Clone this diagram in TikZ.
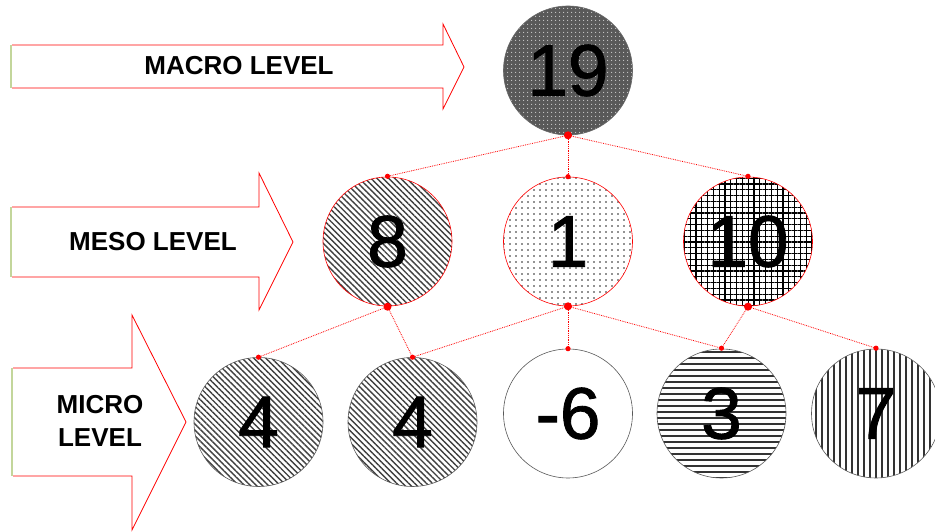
\documentclass[tikz,border=0pt]{standalone}
\usepackage{fontspec}
\setmainfont{Liberation Sans}
\newfontfamily\numfont[FakeBold=1.2]{Liberation Sans}
\usetikzlibrary{patterns.meta}
\definecolor{arrowred}{HTML}{FF0000}
\definecolor{edgegreen}{HTML}{C3D69B}

\tikzset{
  levelnode/.style={circle, minimum size=129pt, inner sep=0pt,
    font=\numfont\fontsize{73}{73}\selectfont},
  micronode/.style={levelnode, draw=black!65, line width=0.6pt},
  mesonode/.style={levelnode, draw=arrowred, line width=0.6pt},
  link/.style={arrowred, densely dotted, line width=0.8pt},
  levelarrow/.style={arrowred, line width=0.8pt},
  leftedge/.style={edgegreen, line width=1.2pt},
  leveltext/.style={font=\fontsize{26}{33}\selectfont\bfseries, align=center}
}

\begin{document}
\begin{tikzpicture}[x=1pt, y=1pt]
  \useasboundingbox (0,0) rectangle (935,532);
  \fill[white] (0,0) rectangle (935,532);

  % level arrows
  \draw[levelarrow] (12,487) -- (443,487) -- (443,508) -- (464,465)
    -- (443,423) -- (443,444) -- (12,444);
  \draw[leftedge] (11,487) -- (11,444);
  \node[leveltext] (macrotext) at (239,466) {MACRO LEVEL};

  \draw[levelarrow] (12,325) -- (259,325) -- (259,359) -- (293,290)
    -- (259,222) -- (259,255) -- (12,255);
  \draw[leftedge] (11,325) -- (11,255);
  \node[leveltext] (mesotext) at (153,290) {MESO LEVEL};

  \draw[levelarrow] (13,164) -- (132,164) -- (132,217) -- (186,110)
    -- (132,2) -- (132,56) -- (13,56);
  \draw[leftedge] (12,164) -- (12,56);
  \node[leveltext] (microtext) at (100,111) {MICRO\\LEVEL};

  % macro
  \node[levelnode, draw=black!60, line width=0.6pt,
    preaction={fill=black!65},
    pattern={Dots[distance=4pt, radius=0.75pt]}, pattern color=white!80!black]
    (macro) at (568,461.5) {19};

  % meso
  \node[mesonode, pattern={Lines[angle=-45, distance=4.2pt, line width=1.4pt]},
    pattern color=black!75] (mesoA) at (387.5,290.5) {8};
  \node[mesonode, pattern={Dots[distance=6pt, radius=0.9pt]},
    pattern color=black!85] (mesoB) at (568,290.5) {1};
  \node[mesonode, pattern={Hatch[angle=0, distance=5.8pt, line width=1.3pt]},
    pattern color=black] (mesoC) at (748,290.5) {10};

  % micro
  \node[micronode, pattern={Lines[angle=-45, distance=4.2pt, line width=1.4pt]},
    pattern color=black!75] (microA) at (258.5,110) {4};
  \node[micronode, pattern={Lines[angle=-45, distance=4.2pt, line width=1.4pt]},
    pattern color=black!75] (microB) at (412.5,110) {4};
  \node[micronode] (microC) at (568,118.5) {-6};
  \node[micronode, pattern={Lines[angle=0, distance=6pt, line width=1.6pt]},
    pattern color=black!80] (microD) at (721.5,118.5) {3};
  \node[micronode, pattern={Lines[angle=90, distance=6pt, line width=1.6pt]},
    pattern color=black!80] (microE) at (876,118.5) {7};

  % links
  \foreach \child in {mesoA, mesoB, mesoC}
    \draw[link] (macro.south) -- (\child.north);
  \foreach \child in {microA, microB}
    \draw[link] (mesoA.south) -- (\child.north);
  \foreach \child in {microB, microC, microD}
    \draw[link] (mesoB.south) -- (\child.north);
  \foreach \child in {microD, microE}
    \draw[link] (mesoC.south) -- (\child.north);

  % joints
  \foreach \parent in {macro, mesoA, mesoB, mesoC}
    \fill[arrowred] (\parent.south) circle (4pt);
  \foreach \child in {mesoA, mesoB, mesoC, microA, microB, microC, microD, microE}
    \fill[arrowred] (\child.north) circle (2.6pt);
\end{tikzpicture}
\end{document}
